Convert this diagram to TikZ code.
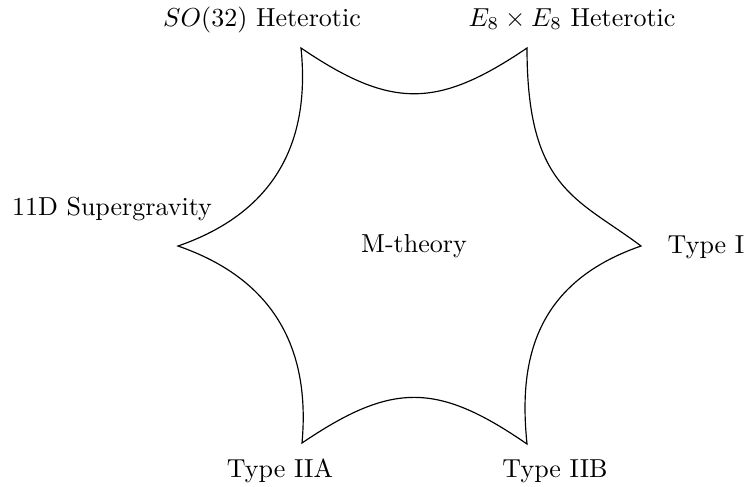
\documentclass[tikz,border=0pt]{standalone}
\begin{document}
\begin{tikzpicture}[x=0.3846pt,y=-0.3846pt,
  lbl/.style={anchor=base,inner sep=0pt},
  star/.style={draw=black,line width=0.45pt,line join=miter}]
\useasboundingbox (0,0) rectangle (748,486);
% vertices
\coordinate (v1) at (301,48);
\coordinate (v2) at (527,48);
\coordinate (v3) at (641,246);
\coordinate (v4) at (527,444);
\coordinate (v5) at (302,443);
\coordinate (v6) at (178,246);
% star outline
\draw[star] (v1) .. controls (391,109) and (437,109) .. (v2)
  .. controls (527,189) and (577,198) .. (v3)
  .. controls (531,284) and (519,366) .. (v4)
  .. controls (437,382) and (392,382) .. (v5)
  .. controls (309,366) and (288,284) .. (v6)
  .. controls (288,208) and (309,126) .. (v1) -- cycle;
% labels
\node[lbl] (so) at (262,26) {$SO(32)$ Heterotic};
\node[lbl] (ee) at (572,26) {$E_8\times E_8$ Heterotic};
\node[lbl] (sg) at (112,215) {11D Supergravity};
\node[lbl] (m) at (414,252) {M-theory};
\node[lbl] (t1) at (706,253) {Type I};
\node[lbl] (t2a) at (280,477) {Type IIA};
\node[lbl] (t2b) at (555,477) {Type IIB};
\end{tikzpicture}
\end{document}
